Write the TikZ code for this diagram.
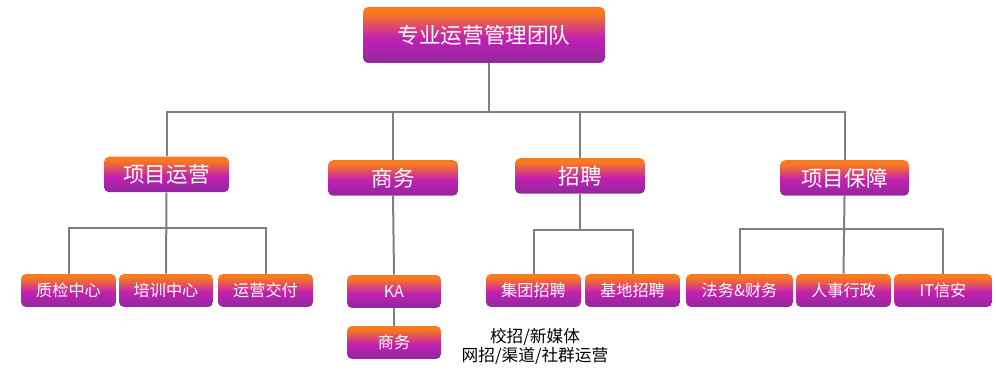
\documentclass[tikz,border=0pt]{standalone}
\usepackage{fontspec}
\setmainfont{Noto Sans CJK SC}
\usepackage{tikz}
\usetikzlibrary{positioning, calc}

\definecolor{boxtop}{HTML}{FA7A1E}
\definecolor{boxmid}{HTML}{C21FB3}
\definecolor{boxbottom}{HTML}{8E2A9C}
\definecolor{linegray}{HTML}{808080}

\pgfdeclareverticalshading{boxfade}{100bp}{
    color(0bp)=(boxbottom); color(25bp)=(boxbottom); color(47bp)=(boxmid);
    color(70bp)=(boxtop); color(100bp)=(boxtop)}

\begin{document}
\begin{tikzpicture}[
        x=0.02cm, y=-0.02cm,
        % Define a uniform style for all blocks
        block/.style={
            rectangle,
            rounded corners=0.1cm,
            shading=boxfade,
            text=white,
            inner sep=0pt,
            minimum height=0.71cm,
            font=\fontsize{12.3}{14}\selectfont
        },
        leaf/.style={
            block,
            minimum height=0.66cm,
            font=\fontsize{9.2}{11}\selectfont
        },
        link/.style={
            draw=linegray,
            line width=0.04cm
        }
    ]
    \useasboundingbox (0,0) rectangle (996,384);

    % Draw the Nodes
    \node (team) [block, minimum width=4.84cm, minimum height=1.12cm] at (484,35) {专业运营管理团队};

    \node (ops)   [block, minimum width=2.5cm]  at (166.5,174.5) {项目运营};
    \node (biz)   [block, minimum width=2.6cm]  at (393,178)     {商务};
    \node (hire)  [block, minimum width=2.6cm]  at (580,176)     {招聘};
    \node (guard) [block, minimum width=2.58cm] at (844.5,178)   {项目保障};

    \node (qc)       [leaf, minimum width=1.9cm]  at (68.5,290.5)  {质检中心};
    \node (train)    [leaf, minimum width=1.88cm] at (166,290.5)   {培训中心};
    \node (delivery) [leaf, minimum width=1.9cm]  at (265.5,290.5) {运营交付};

    \node (ka)    [leaf, minimum width=1.88cm] at (394,291.5) {KA};
    \node (sales) [leaf, minimum width=1.88cm] at (394,342.5) {商务};

    \node (group) [leaf, minimum width=1.9cm] at (533.5,290.5) {集团招聘};
    \node (base)  [leaf, minimum width=1.9cm] at (632.5,290.5) {基地招聘};

    \node (legal) [leaf, minimum width=2.14cm] at (739.5,290.5) {法务\&财务};
    \node (hr)    [leaf, minimum width=1.9cm]  at (843.5,290.5) {人事行政};
    \node (it)    [leaf, minimum width=1.96cm] at (943,290.5)   {IT信安};

    \node (note) [align=center, text=black, font=\fontsize{9.5}{10.8}\selectfont] at (535,346.5)
        {校招/新媒体\\网招/渠道/社群运营};

    % Draw the connecting lines
    \coordinate (bus) at (489,112);
    \draw [link] (team.south -| bus) -- (bus);
    \draw [link] (ops.north) -- (ops.north |- bus) -- (guard.north |- bus) -- (guard.north);
    \draw [link] (biz.north) -- (biz.north |- bus);
    \draw [link] (hire.north) -- (hire.north |- bus);

    \draw [link] (ops.south) -- (train.north);
    \draw [link] (qc.north) -- (qc.north |- 0,228) -- (delivery.north |- 0,228) -- (delivery.north);

    \draw [link] (biz.south) -- (ka.north);
    \draw [link] (ka.south) -- (sales.north);

    \draw [link] (hire.south) -- (hire.south |- 0,230);
    \draw [link] (group.north) -- (group.north |- 0,230) -- (base.north |- 0,230) -- (base.north);

    \draw [link] (guard.south) -- (hr.north);
    \draw [link] (legal.north) -- (legal.north |- 0,229) -- (it.north |- 0,229) -- (it.north);

\end{tikzpicture}
\end{document}
